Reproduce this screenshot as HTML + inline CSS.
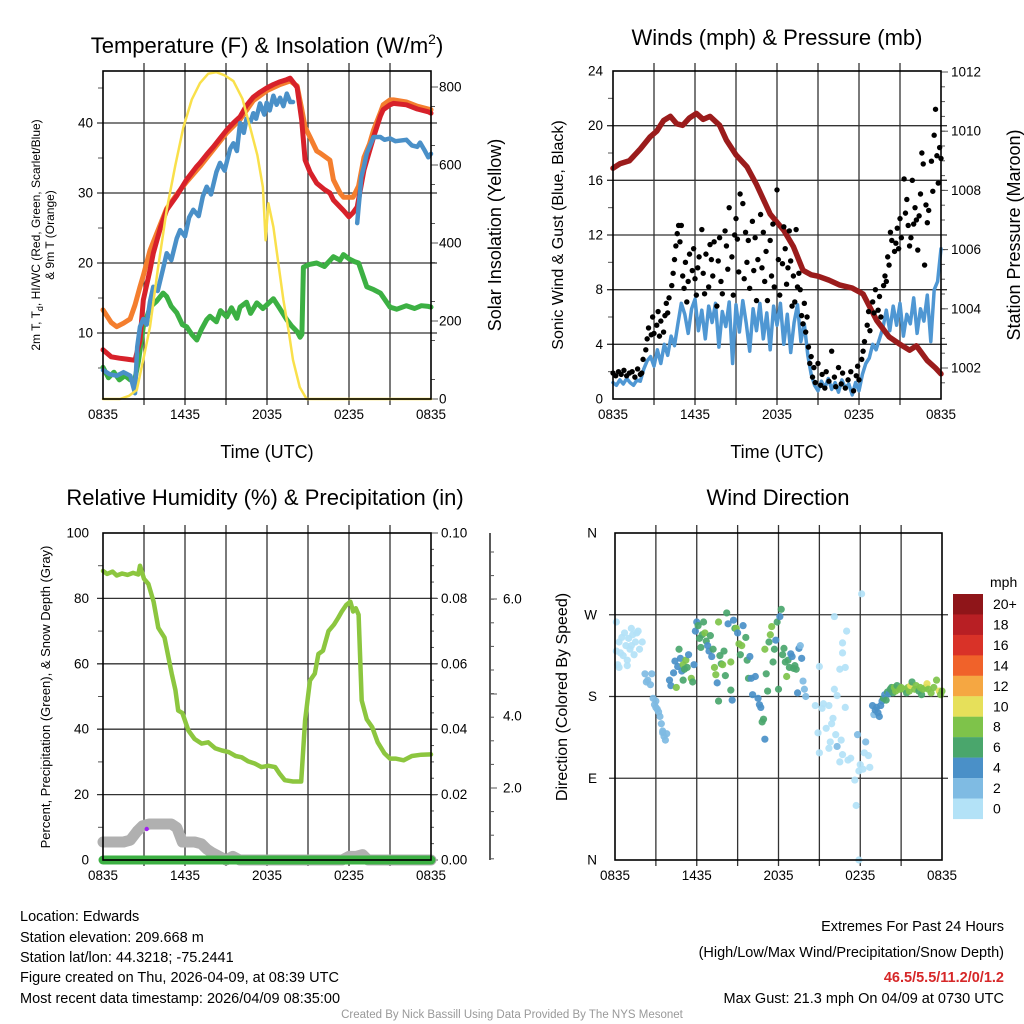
<!DOCTYPE html>
<html><head><meta charset="utf-8">
<style>
html,body{margin:0;padding:0;background:#fff;}
svg{display:block;font-family:"Liberation Sans",Arial,sans-serif;}
</style></head>
<body>
<svg id="fig" width="1024" height="1024" viewBox="0 0 1024 1024" xmlns="http://www.w3.org/2000/svg">
<rect width="1024" height="1024" fill="#fff"/>
<g id="p1"></g>
<g id="p2"></g>
<g id="p3"></g>
<g id="p4"></g>
<g font-size="22" text-anchor="middle" fill="#000">
<text x="267" y="53">Temperature (F) &amp; Insolation (W/m<tspan font-size="14" dy="-9">2</tspan><tspan dy="9">)</tspan></text>
<text x="777" y="45">Winds (mph) &amp; Pressure (mb)</text>
<text x="265" y="505">Relative Humidity (%) &amp; Precipitation (in)</text>
<text x="778" y="505">Wind Direction</text>
</g>
<g fill="#000" text-anchor="middle">
<text x="267" y="458" font-size="18">Time (UTC)</text>
<text x="777" y="458" font-size="18">Time (UTC)</text>
<text transform="translate(40,235) rotate(-90)" font-size="12">2m T, T<tspan font-size="9" dy="3">d</tspan><tspan dy="-3">, HI/WC (Red, Green, Scarlet/Blue)</tspan></text>
<text transform="translate(54,235) rotate(-90)" font-size="12">&amp; 9m T (Orange)</text>
<text transform="translate(501,235) rotate(-90)" font-size="18">Solar Insolation (Yellow)</text>
<text transform="translate(563,235) rotate(-90)" font-size="16">Sonic Wind &amp; Gust (Blue, Black)</text>
<text transform="translate(1020,235) rotate(-90)" font-size="18">Station Pressure (Maroon)</text>
<text transform="translate(50,697) rotate(-90)" font-size="13">Percent, Precipitation (Green), &amp; Snow Depth (Gray)</text>
<text transform="translate(567,697) rotate(-90)" font-size="16">Direction (Colored By Speed)</text>
</g>
<g font-size="14.5" fill="#000">
<text x="20" y="921">Location: Edwards</text>
<text x="20" y="942">Station elevation: 209.668 m</text>
<text x="20" y="962">Station lat/lon: 44.3218; -75.2441</text>
<text x="20" y="982">Figure created on Thu, 2026-04-09, at 08:39 UTC</text>
<text x="20" y="1003">Most recent data timestamp: 2026/04/09 08:35:00</text>
</g>
<g font-size="14.5" fill="#000" text-anchor="end">
<text x="1004" y="931">Extremes For Past 24 Hours</text>
<text x="1004" y="957">(High/Low/Max Wind/Precipitation/Snow Depth)</text>
<text x="1004" y="982" fill="#d62728" font-weight="bold">46.5/5.5/11.2/0/1.2</text>
<text x="1004" y="1003">Max Gust: 21.3 mph On 04/09 at 0730 UTC</text>
</g>
<text x="512" y="1018" font-size="11.5" fill="#999" text-anchor="middle">Created By Nick Bassill Using Data Provided By The NYS Mesonet</text>
</svg>
<script>
// ---------- DATA ----------
const xTickLabels = ["0835","1435","2035","0235","0835"];
const tempT  = [0,0.6,1.2,1.98,2.34,2.71,2.95,3.44,3.68,4.2,4.66,5.39,6.12,6.86,7.1,7.59,8.08,8.56,9.05,9.54,10.03,10.5,11.0,11.49,11.98,12.47,12.96,13.45,13.69,14.2,14.54,14.79,15.15,15.64,16.2,16.6,16.86,17.35,17.6,18.0,18.3,18.6,19.1,19.5,19.8,20.3,20.5,21.0,21.25,22.2,23.0,23.8,24];
const tempV  = [7.6,6.6,6.4,6.2,6.1,9,14.7,19,21.4,25,27.6,29.6,31.9,33.8,34.3,35.5,36.6,37.8,39,40,40.9,42.5,43.7,44.4,45,45.5,45.9,46.2,46.4,45.1,40.4,34.7,33,31.4,30.5,30,29,28,27.5,26.6,27.2,28,33.3,36,38,41,41.9,42.6,42.8,42.6,42,41.6,41.4];
const nineT  = [0,0.6,1.0,1.5,1.98,2.34,2.71,2.95,3.44,3.68,4.66,5.39,6.12,7.1,8.08,9.05,10.03,11.0,11.98,12.96,13.69,14.2,14.54,14.79,15.15,15.64,15.89,16.6,16.86,17.35,17.6,18.3,18.7,19.1,19.5,19.8,20.3,20.5,21.0,21.25,22.2,23.0,23.8,24];
const nineV  = [13.3,11.5,10.9,11.4,12,14,16.6,18.2,21.8,23,27.8,29.8,31.6,33.8,36.2,38.6,40.5,43.2,44.6,45.5,46,45.3,42,39.4,38,36,35.7,34.7,31.9,30,29.4,29.4,31,35.1,37,39,41.5,42.6,43.3,43.3,43,42.4,42,41.9];
const dewT   = [0,0.5,1.0,1.5,2.0,2.2,2.34,2.5,2.71,2.95,3.2,3.44,3.68,4.0,4.4,4.66,5.0,5.39,5.64,6.0,6.3,6.61,7.0,7.3,7.59,7.9,8.3,8.56,8.9,9.3,9.54,9.8,10.03,10.3,10.5,10.8,11.0,11.2,11.49,11.8,11.98,12.2,12.47,12.7,12.96,13.2,13.45,13.7,13.9];
const dewV   = [4.7,4.1,3.9,4.4,3.9,2.4,1.4,8,10.9,12,11.2,14.5,16.6,16,19.2,21.4,20.4,23.5,24.7,23.8,26.5,27.6,26.7,29.5,30.9,29.8,33,34.3,33.2,36.3,37.1,36,40,38.6,40.6,40.2,41.4,40.6,42.8,41.2,42.9,41.8,43.9,42.6,43.6,42.4,44.2,43,43];
const dew2T  = [18.6,18.7,18.8,18.9,19.1,19.3,19.5,19.8,20.3,20.6,21.0,21.4,22.2,22.6,23.0,23.2,23.5,23.8,24];
const dew2V  = [25.7,28,30,32.3,33.8,35.7,36.6,38,38,37.6,37.8,37.4,37.6,36.8,36.6,37.2,36.2,35.1,35.6];
const greenT = [0,0.4,0.8,1.2,1.6,2.0,2.34,2.6,2.95,3.2,3.44,3.9,4.4,4.66,5.0,5.39,5.8,6.12,6.5,6.86,7.2,7.59,7.83,8.3,8.6,9.05,9.4,9.8,10.03,10.5,10.8,11.25,11.7,12.47,12.9,13.45,13.8,14.2,14.42,14.55,14.66,15.1,15.64,16.2,16.86,17.35,17.6,18.0,18.4,18.7,19.3,19.8,20.3,21.0,21.5,22.2,22.8,23.3,23.8,24];
const greenV = [5.1,3.6,4.4,3.3,3.9,3.3,3.5,6,10.9,12.2,13.7,14.5,15.7,15.2,13.8,12.9,11.2,10.9,9.8,9,10.5,11.9,12.4,11.6,13.2,12.3,13.6,12.1,13.7,14.4,12.8,14.3,13.5,14.9,13.6,11.9,11,10.2,9.4,9.8,19.4,19.8,20,19.5,20.9,20.4,21.2,20.6,20.2,20,16.6,16.2,15.7,13.7,13.4,13.9,13.5,13.9,13.8,13.7];
const solT   = [0,1.24,1.9,2.47,3.0,3.44,4.0,4.66,5.3,5.88,6.5,7.1,7.7,8.3,8.9,9.54,10.2,10.76,11.3,11.7,11.9,12.1,12.47,12.9,13.2,13.6,13.9,14.4,14.9,24];
const solV   = [0,0,8,23,110,185,330,485,600,697,768,810,834,838,830,815,770,697,625,543,407,502,441,330,254,170,100,30,0,0];
const presT  = [0,0.5,1.2,2.0,2.7,3.2,3.7,4.2,4.66,5.1,5.6,6.1,6.6,7.1,7.8,8.3,9.0,9.8,10.5,11.5,12.5,13.2,13.9,14.5,15.0,15.8,16.6,17.5,18.3,19.3,20.2,21.0,21.7,22.2,23.0,23.6,24];
const presV  = [1008.75,1008.9,1009.0,1009.4,1009.8,1010.0,1010.36,1010.5,1010.25,1010.2,1010.45,1010.6,1010.4,1010.5,1010.2,1009.7,1009.2,1008.8,1008.2,1007.2,1006.65,1006.1,1005.3,1005.15,1005.1,1004.97,1004.8,1004.7,1004.5,1003.6,1003.05,1002.8,1002.6,1002.75,1002.25,1002.0,1001.8];
const sonicV = [1.2,1.0,1.4,1.1,1.5,1.2,1.0,1.4,1.3,2.2,2.8,3.1,2.4,3.6,2.6,4.0,3.2,4.6,3.9,5.5,7.0,6.2,4.8,6.6,7.3,5.0,6.5,4.4,6.8,5.6,7.0,3.8,6.4,5.3,7.1,2.6,6.9,4.9,7.2,5.5,3.5,6.6,5.0,7.0,4.4,6.3,3.6,6.8,5.4,7.0,4.0,6.2,3.4,5.6,6.9,4.2,5.5,3.2,1.8,1.0,0.6,1.3,0.8,1.5,0.7,1.2,0.5,1.4,0.8,1.1,0.3,1.2,0.6,1.8,2.6,3.0,4.0,3.6,4.4,5.2,6.5,5.0,6.8,5.4,7.0,4.6,6.2,5.5,7.4,4.8,6.6,5.7,7.6,4.2,8.0,8.6,11.0];
const gustT = [0,0.2,0.4,0.6,0.8,1.0,1.2,1.4,1.6,1.8,2.0,2.1,2.2,2.4,2.5,2.6,2.8,2.9,3.0,3.2,3.3,3.4,3.5,3.7,3.8,3.9,4.0,4.1,4.3,4.4,4.5,4.6,4.7,4.8,4.9,5.0,5.1,5.2,5.3,5.4,5.5,5.6,5.8,5.9,6.0,6.1,6.2,6.3,6.5,6.6,6.7,6.8,7.0,7.1,7.2,7.3,7.4,7.6,7.7,7.8,7.9,8.0,8.2,8.3,8.4,8.5,8.7,8.8,8.9,9.0,9.1,9.2,9.3,9.5,9.6,9.7,9.8,9.9,10.0,10.2,10.3,10.4,10.5,10.6,10.8,10.9,11.0,11.1,11.2,11.3,11.5,11.6,11.7,11.8,12.0,12.1,12.2,12.4,12.5,12.6,12.7,12.8,12.9,13.0,13.1,13.2,13.3,13.4,13.5,13.6,13.7,13.8,13.9,14.0,14.1,14.2,14.3,14.4,14.5,14.6,14.7,14.8,15.0,15.2,15.3,15.5,15.6,15.8,16.0,16.2,16.3,16.5,16.7,16.8,17.0,17.2,17.4,17.6,17.8,17.9,18.0,18.2,18.3,18.4,18.6,18.7,18.8,19.0,19.1,19.2,19.4,19.5,19.6,19.8,19.9,20.0,20.1,20.2,20.3,20.4,20.6,20.7,20.8,20.9,21.0,21.1,21.3,21.4,21.5,21.6,21.7,21.8,21.9,22.0,22.1,22.2,22.3,22.4,22.5,22.6,22.7,22.8,22.9,23.0,23.1,23.3,23.4,23.5,23.6,23.7,23.8,23.9,24.0];
const gustV = [1.9,1.7,2.0,1.8,2.1,1.7,1.9,2.0,1.6,2.2,1.8,1.9,2.9,3.6,4.4,5.2,4.7,6.0,4.8,5.4,6.4,4.6,5.7,4.9,6.1,7.0,6.3,7.4,8.3,9.2,10.2,11.2,12.1,12.7,11.5,12.7,9.0,8.1,10.0,7.1,8.6,10.6,9.4,11.0,8.8,7.6,9.6,10.4,12.4,9.2,7.7,10.6,8.2,11.3,10.2,9.0,11.5,6.8,10.1,11.8,8.6,7.7,12.3,11.2,9.5,14.0,10.4,7.6,12.0,13.2,11.7,9.3,15.0,14.3,8.8,12.2,10.0,11.6,8.1,13.0,9.4,11.8,7.2,10.2,13.5,9.6,12.2,8.6,10.8,7.2,11.6,9.0,12.8,8.2,15.3,10.2,7.6,9.9,12.6,11.0,8.4,9.6,12.3,10.1,6.8,9.0,7.1,12.4,8.2,9.2,8.0,6.1,5.5,7.0,4.9,6.0,3.8,2.6,3.1,1.6,2.3,1.2,2.6,1.0,1.8,0.8,2.0,1.3,3.5,1.6,0.9,2.3,1.1,1.9,0.8,1.4,2.0,0.6,1.7,2.4,1.4,2.9,3.5,4.2,5.4,6.4,5.0,7.1,6.3,8.0,6.5,7.5,6.0,8.3,9.0,8.6,10.4,9.8,12.2,11.6,10.8,11.4,12.5,11.0,13.2,11.8,16.1,13.6,14.6,12.7,11.2,11.8,16.0,12.8,14.0,13.1,10.9,13.4,15.0,18.0,17.2,9.8,14.2,12.9,13.8,17.4,15.2,19.3,21.2,17.8,15.8,18.4,17.6];
const rhT = [0,0.3,0.7,1.0,1.4,1.8,2.2,2.58,2.71,3.0,3.32,3.7,4.05,4.5,5.03,5.3,5.5,5.8,6.25,6.7,7.22,7.7,8.2,8.7,9.2,9.7,10.15,10.6,11.1,11.6,12.1,12.6,12.9,13.3,13.9,14.5,14.79,15.0,15.15,15.5,15.76,16.1,16.5,16.9,17.2,17.47,17.8,18.1,18.3,18.5,18.7,18.93,19.3,19.7,20.1,20.6,21.0,21.4,22.0,22.6,23.3,24];
const rhV = [88.4,87.5,88.2,87,87.6,87.2,87.8,87.3,90,86,84.4,79,71,68,57,52,45.7,45,39.6,37,35.6,36,34.2,33.5,33,31.8,31.4,30.2,29.5,28.4,28.8,28.4,26.5,24.4,24,24,42.7,50,54.9,57,63,64,70,72,74,76,78,79,76,77,75,48.8,43,40.6,36,32.6,31,31,30.5,31.8,32.2,32.3];
const snowT = [0,0.5,1.0,1.5,2.0,2.5,2.9,3.4,4.0,4.6,5.0,5.4,5.8,6.3,6.7,7.2,7.6,8.0,8.5,9.0,9.5,10.0,17.5,18.0,18.5,19.0,19.4,24];
const snowV = [0.5,0.5,0.5,0.5,0.55,0.8,0.95,1.0,1.0,1.0,1.0,0.9,0.5,0.5,0.5,0.45,0.3,0.2,0.1,0.0,0.1,0.0,0.0,0.1,0.1,0.15,0.0,0.0];
const wdT = [0.1,0.1,0.2,0.3,0.4,0.5,0.6,0.7,0.8,0.9,1.0,1.1,1.2,1.3,1.4,1.5,1.6,1.7,1.8,2.0,0.3,0.9,1.2,
2.2,2.3,2.4,2.6,2.8,2.9,3.0,3.1,3.2,3.3,3.4,3.5,3.6,3.7,3.8,2.7,3.0,3.5,
4.0,4.1,4.3,4.4,4.5,4.6,4.7,4.8,4.9,5.0,5.0,5.1,5.2,5.3,5.4,5.6,5.7,5.8,5.9,6.0,6.1,6.2,6.3,6.4,6.5,6.6,6.7,6.8,6.9,7.0,7.1,7.2,7.3,7.4,7.6,7.5,7.6,7.7,7.8,7.9,8.0,8.1,8.2,8.3,8.5,8.5,8.6,8.7,8.8,8.9,9.0,9.1,9.2,9.3,9.4,9.6,9.7,9.8,9.9,10.0,10.1,10.3,10.5,10.6,10.7,10.8,10.9,11.0,11.0,11.1,11.2,11.3,11.4,11.5,11.6,11.7,11.8,11.9,12.0,12.1,12.2,12.3,12.4,12.5,12.6,12.7,12.8,12.9,13.0,13.1,13.2,13.3,13.4,13.5,13.6,13.7,13.8,13.9,14.0,
14.7,14.9,15.0,15.2,15.3,15.5,15.7,15.8,15.9,16.0,16.2,16.3,16.5,16.6,16.7,16.3,16.9,17.1,17.3,17.6,17.7,17.9,18.0,18.2,18.3,18.4,18.6,18.7,17.9,17.8,18.1,16.1,16.7,16.7,17.0,16.5,16.9,15.0,15.7,16.1,
18.9,19.0,19.1,19.2,19.3,19.4,19.5,19.6,19.7,19.8,19.9,20.0,20.1,20.2,20.3,20.4,20.5,20.6,20.7,20.9,21.0,21.2,21.4,21.5,21.6,21.7,21.8,22.0,22.1,22.3,22.4,22.5,22.6,22.8,22.9,23.0,23.2,23.4,23.6,23.8,23.9,24.0];
const wdD = [262,230,215,240,228,245,225,250,236,220,244,232,255,248,226,240,250,252,232,240,212,214,236,
205,196,198,193,178,171,168,166,163,158,150,140,136,132,139,205,175,142,
198,192,206,219,190,213,232,222,208,198,215,210,220,212,226,200,196,215,252,262,258,244,234,248,262,250,241,236,230,247,224,232,212,204,262,195,175,225,216,215,230,203,272,260,187,218,176,264,255,255,250,238,226,236,258,245,220,200,224,200,182,202,178,171,168,152,155,133,232,205,186,240,248,257,218,232,242,262,188,268,276,226,233,218,202,220,212,227,224,211,214,210,184,233,236,222,197,188,180,
170,140,118,167,172,145,123,130,150,156,138,125,108,132,116,181,168,110,112,88,60,98,105,100,118,130,115,102,0,138,293,268,239,228,252,210,212,213,170,188,
170,160,165,168,162,158,170,175,178,182,176,185,183,188,190,184,190,186,192,188,190,188,184,190,186,192,196,188,192,186,190,182,188,190,194,188,184,190,198,186,182,186];
const wdS = [1,1,1,1,1,1,1,1,1,1,1,1,1,1,1,1,1,1,1,1,1,1,1,
2,2,2,2,2,2,2,2,2,2,2,2,2,2,2,2,2,2,
4,4,4,4,8,4,6,4,4,6,8,6,8,6,4,8,6,4,4,4,6,6,6,6,6,8,6,4,4,6,4,6,8,8,8,4,6,6,6,8,6,6,6,4,6,8,4,4,6,8,4,8,6,8,4,6,6,6,4,4,4,4,4,4,4,6,6,4,8,6,6,6,8,8,6,6,4,6,6,4,6,6,6,6,8,6,6,4,4,6,6,6,4,4,2,4,2,2,2,
1,1,1,1,1,1,1,1,1,1,1,2,1,1,1,1,1,1,1,1,1,1,1,1,1,2,1,1,1,2,1,1,1,1,1,1,1,1,1,1,
4,2,4,4,4,4,4,4,6,4,6,6,4,6,6,6,8,8,6,8,8,8,6,8,8,10,6,8,8,6,8,6,8,8,10,8,8,8,8,10,8,8];
const speedLabels = ["20+","18","16","14","12","10","8","6","4","2","0"];
const speedColors = ["#b3e2f7","#7fbbe3","#4a90c8","#4aa66c","#7ec34a","#e6e05a","#f5a742","#f0622a","#d93228","#b81f24","#8f1519"];

// ---------- HELPERS ----------
const NS="http://www.w3.org/2000/svg";
function mk(parent,tag,attrs){const e=document.createElementNS(NS,tag);for(const k in attrs)e.setAttribute(k,attrs[k]);parent.appendChild(e);return e;}
function lin(d0,d1,r0,r1){return v=>r0+(v-d0)*(r1-r0)/(d1-d0);}
function pathD(ts,vs,sx,sy){return ts.map((t,i)=>(i?'L':'M')+sx(t).toFixed(1)+','+sy(vs[i]).toFixed(1)).join('');}

function frame(g,L,T,R,B){
  const sx=lin(0,24,L,R);
  for(let h=3;h<24;h+=3){
    const l=mk(g,'line',{x1:sx(h),x2:sx(h),y1:T-8,y2:B+6,stroke:'#333','stroke-width':1.3});
    
    
  }
  for(let i=0;i<5;i++){
    const t=mk(g,'text',{x:sx(i*6),y:B+20,'font-size':13.5,'text-anchor':'middle'});
    t.textContent=xTickLabels[i];
    
    
  }
  return sx;
}
function box(g,L,T,R,B){
  const r=mk(g,'rect',{x:L,y:T,width:R-L,height:B-T,fill:'none',stroke:'#000','stroke-width':1.6});
  
  
}
function hgrid(g,L,R,y){
  const l=mk(g,'line',{x1:L-6,x2:R+6,y1:y,y2:y,stroke:'#333','stroke-width':1.3});
  
  
}
function ylab(g,x,y,txt,anchor,name){
  const t=mk(g,'text',{x:x,y:y+4.5,'font-size':13.5,'text-anchor':anchor});
  t.textContent=txt;
  
  
}
function tick(g,x1,x2,y){mk(g,'line',{x1:x1,x2:x2,y1:y,y2:y,stroke:'#555','stroke-width':1});}
function line(g,ts,vs,sx,sy,color,w,name){
  const p=mk(g,'path',{d:pathD(ts,vs,sx,sy),fill:'none',stroke:color,'stroke-width':w,'stroke-linejoin':'round','stroke-linecap':'round'});
  
  
}

// ---------- PANEL 1 ----------
(function(){
  const g=document.getElementById('p1');const L=103,T=71,R=431,B=399;
  const sx=frame(g,L,T,R,B);
  const sy=lin(0,10,403,333), sy2=lin(0,800,399,87);
  [10,20,30,40].forEach(v=>{hgrid(g,L,R,sy(v));ylab(g,L-10,sy(v),String(v),'end','y-tick-label');});
  for(let v=5;v<48;v+=10)tick(g,L-5,L,sy(v));
  [0,200,400,600,800].forEach(v=>{tick(g,R,R+7,sy2(v));ylab(g,R+8,sy2(v),String(v),'start','y2-tick-label');});
  for(let v=50;v<840;v+=100)tick(g,R,R+4,sy2(v));
  line(g,greenT,greenV,sx,sy,'#3cb043',5,'dewpoint-line');
  line(g,nineT,nineV,sx,sy,'#f47e2e',5,'temp-9m-line');
  line(g,tempT,tempV,sx,sy,'#d7212a',5,'temp-2m-line');
  line(g,dewT,dewV,sx,sy,'#4a90c8',4.5,'heat-index-line');
  line(g,dew2T,dew2V,sx,sy,'#4a90c8',4.5,'heat-index-line-2');
  line(g,solT,solV,sx,sy2,'#f9e04b',2.5,'insolation-line');
  box(g,L,T,R,B);
})();

// ---------- PANEL 2 ----------
(function(){
  const g=document.getElementById('p2');const L=613,T=71,R=941,B=399;
  const sx=frame(g,L,T,R,B);
  const sy=lin(0,24,399,71), sy2=lin(1002,1012,368,72);
  [0,4,8,12,16,20,24].forEach(v=>{if(v>0&&v<24)hgrid(g,L,R,sy(v));ylab(g,L-10,sy(v),String(v),'end','y-tick-label');});
  for(let v=2;v<24;v+=4)tick(g,L-5,L,sy(v));
  [1002,1004,1006,1008,1010,1012].forEach(v=>{tick(g,R,R+7,sy2(v));ylab(g,R+10,sy2(v),String(v),'start','y2-tick-label');});
  for(let v=1001.5;v<1012;v+=0.5)tick(g,R,R+4,sy2(v));
  const sonicT=sonicV.map((_,i)=>i*0.25);
  line(g,sonicT,sonicV,sx,sy,'#4f97d3',3.5,'sonic-wind-line');
  line(g,presT,presV,sx,sy2,'#9b1c1c',5.5,'pressure-line');
  gustT.forEach((t,i)=>{
    const c=mk(g,'circle',{cx:sx(t),cy:sy(gustV[i]),r:2.7,fill:'#000'});
    
    
  });
  box(g,L,T,R,B);
})();

// ---------- PANEL 3 ----------
(function(){
  const g=document.getElementById('p3');const L=103,T=533,R=431,B=860;
  const sx=frame(g,L,T,R,B);
  const sy=lin(0,100,860,533), sy2=lin(0,0.1,860,533), ss=lin(0,1,860,824);
  [0,20,40,60,80,100].forEach(v=>{if(v>0&&v<100)hgrid(g,L,R,sy(v));ylab(g,L-14,sy(v),String(v),'end','y-tick-label');});
  for(let v=10;v<100;v+=20)tick(g,L-5,L,sy(v));
  ['0.00','0.02','0.04','0.06','0.08','0.10'].forEach((s,i)=>{tick(g,R,R+7,sy2(i*0.02));ylab(g,R+10,sy2(i*0.02),s,'start','y2-tick-label');});
  for(let v=0.005;v<0.1;v+=0.005)tick(g,R,R+3,sy2(v));
  const ax=mk(g,'line',{x1:490,x2:490,y1:533,y2:860,stroke:'#000','stroke-width':1.3});
  
  
  [599,694,788].forEach(y=>tick(g,490,497,y));
  for(let y=552;y<860;y+=23.6)tick(g,490,494,y);
  [['6.0',599],['4.0',716],['2.0',788]].forEach(a=>ylab(g,503,a[1],a[0],'start','snow-tick-label'));
  line(g,snowT,snowV,sx,ss,'#b0b0b0',11,'snow-depth-line');
  const pc=mk(g,'line',{x1:L,x2:R,y1:B,y2:B,stroke:'#3cb043','stroke-width':9,'stroke-linecap':'round'});
  
  
  mk(g,'line',{x1:L,x2:R,y1:B,y2:B,stroke:'#1e6b2a','stroke-width':1.5});
  const pd=mk(g,'circle',{cx:sx(3.2),cy:829,r:2.2,fill:'#a020f0'});
  
  
  line(g,rhT,rhV,sx,sy,'#8cc63f',4.5,'humidity-line');
  box(g,L,T,R,B);
})();

// ---------- PANEL 4 ----------
(function(){
  const g=document.getElementById('p4');const L=615,T=533,R=942,B=860;
  const sx=frame(g,L,T,R,B);
  const sy=lin(0,360,860,533);
  [['N',0],['E',90],['S',180],['W',270],['N',360]].forEach(a=>{
    if(a[1]>0&&a[1]<360)hgrid(g,L,R,sy(a[1]));
    ylab(g,L-18,sy(a[1]),a[0],'end','direction-label');
  });
  wdT.forEach((t,i)=>{
    const bin=Math.min(10,Math.floor(wdS[i]/2));
    const c=mk(g,'circle',{cx:sx(t),cy:sy(wdD[i]),r:3.6,fill:speedColors[bin],'fill-opacity':0.92});
    
    
  });
  box(g,L,T,R,B);
  const lg=mk(g,'g',{});
  
  
  const mt=mk(lg,'text',{x:990,y:587,'font-size':14});mt.textContent='mph';
  speedLabels.forEach((s,i)=>{
    const y=594+i*20.45;
    mk(lg,'rect',{x:953,y:y,width:30,height:20.6,fill:speedColors[10-i]});
    const t=mk(lg,'text',{x:993,y:y+15,'font-size':14});
    t.textContent=s;
    
    
  });
})();
</script>
</body></html>
